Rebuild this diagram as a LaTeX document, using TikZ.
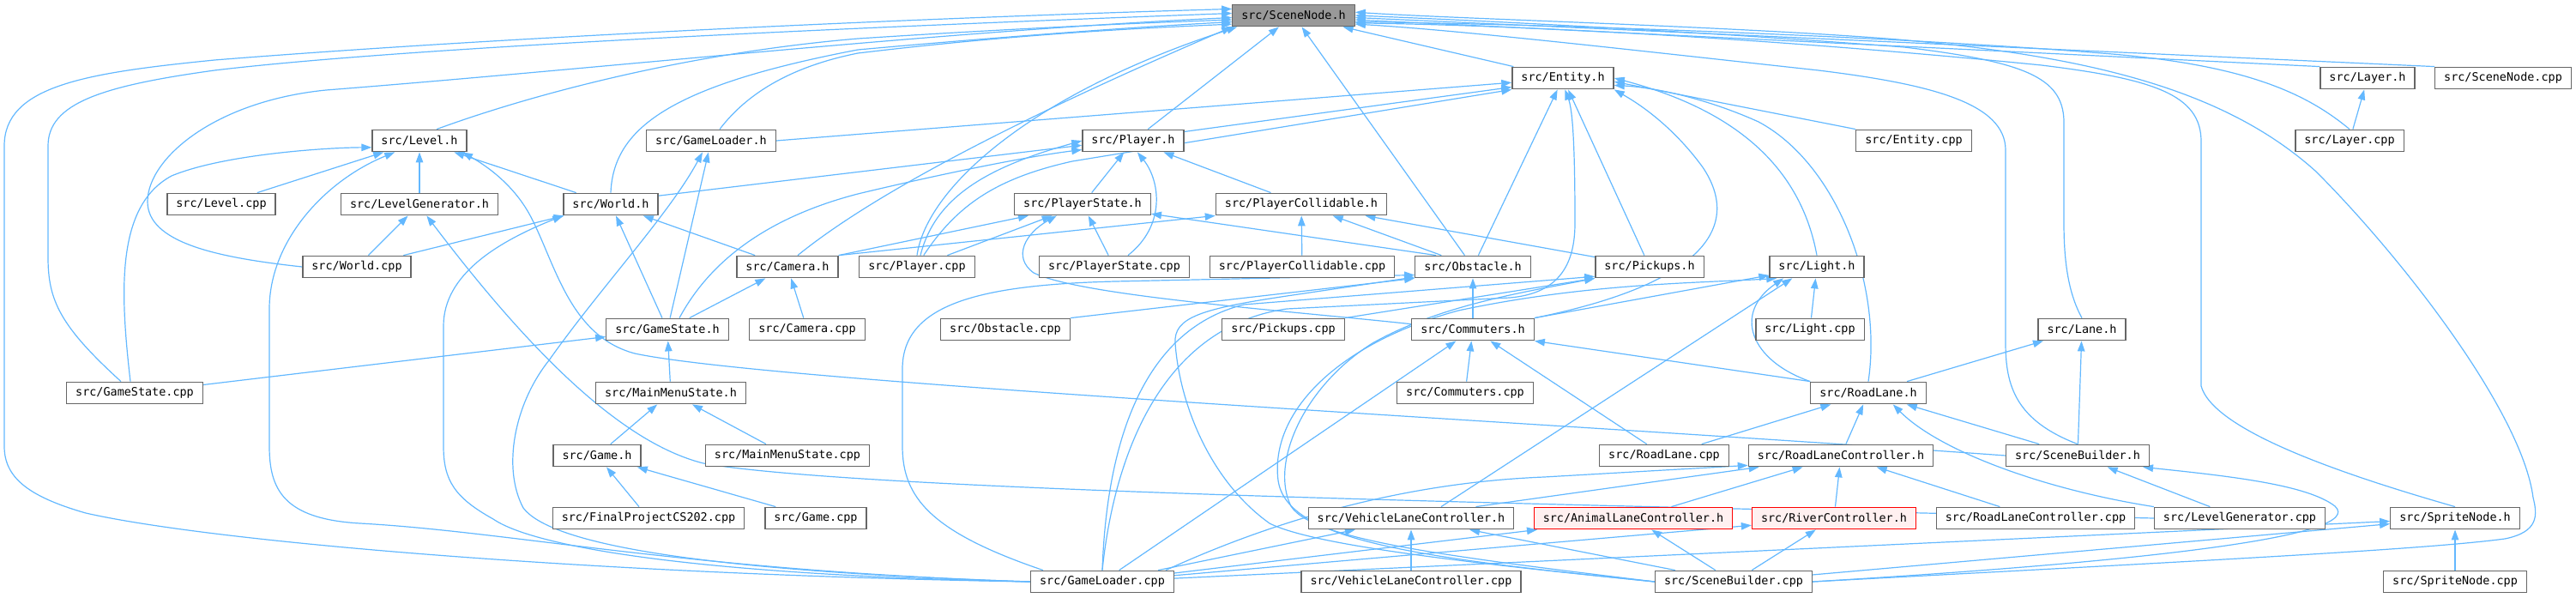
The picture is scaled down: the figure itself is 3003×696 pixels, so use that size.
\documentclass[tikz,border=0pt]{standalone}
\usepackage{fontspec}
\newfontfamily\boxfont{DejaVu Sans Mono}
\usetikzlibrary{arrows.meta}
\definecolor{edgeblue}{HTML}{63B8FF}
\definecolor{boxgray}{HTML}{666666}
\definecolor{rootgray}{HTML}{999999}
\definecolor{redfill}{HTML}{FFF0F0}
\pgfdeclarelayer{bg}
\pgfsetlayers{bg,main}
\begin{document}
\begin{tikzpicture}[x=1pt,y=-1pt,
  box/.style={draw=boxgray, line width=1.3pt, fill=white, font=\boxfont\fontsize{13.45pt}{16pt}\selectfont, inner xsep=10.5pt, inner ysep=0pt, minimum height=25.5pt},
  rootbox/.style={box, fill=rootgray},
  redbox/.style={box, draw=red, fill=redfill},
  edge/.style={draw=edgeblue, line width=1.2pt, -{Triangle[length=12pt,width=8.5pt]}, fill=none}]
\useasboundingbox (0,0) rectangle (3003,696);
\node[rootbox] (SN) at (1508,18) {src/SceneNode.h};
\node[box] (EN) at (1822,91) {src/Entity.h};
\node[box] (LYh) at (2760,91) {src/Layer.h};
\node[box] (SNc) at (2918,91) {src/SceneNode.cpp};
\node[box] (LVh) at (489,164) {src/Level.h};
\node[box] (GLh) at (829,164) {src/GameLoader.h};
\node[box] (PLh) at (1321,164) {src/Player.h};
\node[box] (ENc) at (2231,164) {src/Entity.cpp};
\node[box] (LYc) at (2739,164) {src/Layer.cpp};
\node[box] (LVc) at (258,238) {src/Level.cpp};
\node[box] (LGh) at (489,238) {src/LevelGenerator.h};
\node[box] (WDh) at (712,238) {src/World.h};
\node[box] (PSh) at (1262,238) {src/PlayerState.h};
\node[box] (PCh) at (1517,238) {src/PlayerCollidable.h};
\node[box] (WDc) at (416,311) {src/World.cpp};
\node[box] (CMh) at (918,311) {src/Camera.h};
\node[box] (PLc) at (1069,311) {src/Player.cpp};
\node[box] (PSc) at (1299,311) {src/PlayerState.cpp};
\node[box] (PCc) at (1518,311) {src/PlayerCollidable.cpp};
\node[box] (OBh) at (1717,311) {src/Obstacle.h};
\node[box] (PKh) at (1923,311) {src/Pickups.h};
\node[box] (LTh) at (2118,311) {src/Light.h};
\node[box] (GSh) at (778,384) {src/GameState.h};
\node[box] (CMc) at (941,384) {src/Camera.cpp};
\node[box] (OBc) at (1172,384) {src/Obstacle.cpp};
\node[box] (PKc) at (1496,384) {src/Pickups.cpp};
\node[box] (CTh) at (1717,384) {src/Commuters.h};
\node[box] (LTc) at (2110,384) {src/Light.cpp};
\node[box] (LNh) at (2427,384) {src/Lane.h};
\node[box] (GSc) at (157,458) {src/GameState.cpp};
\node[box] (MMh) at (782,458) {src/MainMenuState.h};
\node[box] (CTc) at (1708,458) {src/Commuters.cpp};
\node[box] (RLh) at (2178,458) {src/RoadLane.h};
\node[box] (GMh) at (696,531) {src/Game.h};
\node[box] (MMc) at (918,531) {src/MainMenuState.cpp};
\node[box] (RLc) at (1940,531) {src/RoadLane.cpp};
\node[box] (RCh) at (2146,531) {src/RoadLaneController.h};
\node[box] (SBh) at (2422,531) {src/SceneBuilder.h};
\node[box] (FPc) at (756,604) {src/FinalProjectCS202.cpp};
\node[box] (GMc) at (951,604) {src/Game.cpp};
\node[box] (VLh) at (1645,604) {src/VehicleLaneController.h};
\node[redbox] (ALh) at (1904,604) {src/AnimalLaneController.h};
\node[redbox] (RVh) at (2138,604) {src/RiverController.h};
\node[box] (RCc) at (2373,604) {src/RoadLaneController.cpp};
\node[box] (LGc) at (2611,604) {src/LevelGenerator.cpp};
\node[box] (SPh) at (2862,604) {src/SpriteNode.h};
\node[box] (GLc) at (1285,678) {src/GameLoader.cpp};
\node[box] (VLc) at (1645,678) {src/VehicleLaneController.cpp};
\node[box] (SBc) at (2021,678) {src/SceneBuilder.cpp};
\node[box] (SPc) at (2862,678) {src/SpriteNode.cpp};
\begin{pgfonlayer}{bg}
% SceneNode.h
\draw[edge] (EN) -- (SN);
\draw[edge] (PLh) -- (SN);
\draw[edge] (OBh) -- (SN);
\draw[edge] (LYh.north west) -- (SN.-4);
\draw[edge] (SNc.north west) -- (SN.-2);
\draw[edge] (LYc.north) .. controls (2690,110) and (2620,75) .. (2450,62) .. controls (2200,42) and (1800,28) .. (SN.-6);
\draw[edge] (LNh.north) .. controls (2410,340) and (2406,300) .. (2406,260) -- (2406,140) .. controls (2404,90) and (2360,72) .. (2220,55) .. controls (2000,38) and (1750,25) .. (SN.0);
\draw[edge] (SBh.north) .. controls (2350,490) and (2338,450) .. (2338,400) -- (2338,175) .. controls (2338,120) and (2250,98) .. (2120,82) .. controls (1900,58) and (1700,35) .. (SN.-8);
\draw[edge] (SPh.north) .. controls (2720,550) and (2580,500) .. (2566,450) -- (2566,165) .. controls (2566,110) and (2510,92) .. (2380,76) .. controls (2100,48) and (1800,30) .. (SN.-7);
\draw[edge] (SBc.east) .. controls (2600,652) and (2830,640) .. (2920,628) .. controls (2960,620) and (2958,600) .. (2953,580) .. controls (2940,480) and (2800,300) .. (2700,200) .. controls (2600,110) and (2450,65) .. (2200,45) .. controls (2000,30) and (1700,22) .. (SN.3);
\draw[edge] ([xshift=20pt]LVh.north) .. controls (620,110) and (800,62) .. (1000,45) .. controls (1200,32) and (1350,26) .. (SN.184);
\draw[edge] ([xshift=10pt]GLh.north) .. controls (870,110) and (920,78) .. (1000,62) .. controls (1200,38) and (1350,32) .. (SN.188);
\draw[edge] (WDh.north) .. controls (715,150) and (780,100) .. (1000,58) .. controls (1200,40) and (1350,30) .. (SN.186);
\draw[edge] ([xshift=12pt]CMh.north) .. controls (1050,200) and (1300,90) .. (SN.south west);
\draw[edge] (PLc.north) .. controls (1080,220) and (1200,110) .. ([xshift=6pt]SN.south west);
\draw[edge] (WDc.west) .. controls (250,300) and (172,282) .. (172,235) .. controls (172,185) and (250,118) .. (380,105) .. controls (700,80) and (1100,36) .. (SN.182);
\draw[edge] ([xshift=-16pt]GSc.north) .. controls (70,380) and (56,350) .. (56,300) -- (56,170) .. controls (56,120) and (120,100) .. (250,82) .. controls (500,52) and (1100,28) .. (SN.178);
\draw[edge] (GLc.west) .. controls (700,670) and (250,632) .. (100,598) .. controls (30,578) and (5,555) .. (5,520) -- (5,170) .. controls (5,100) and (100,85) .. (250,70) .. controls (600,42) and (1100,20) .. (SN.174);
% Entity.h
\draw[edge] (GLh.east) -- (EN.185);
\draw[edge] (PLh.10) -- (EN.190);
\draw[edge] (PLc.60) .. controls (1115,240) and (1160,208) .. (1250,188) -- (EN.south west);
\draw[edge] (OBh) -- (EN);
\draw[edge] (PKh) -- (EN);
\draw[edge] (LTh.north) .. controls (2100,200) and (2030,130) .. (EN.east);
\draw[edge] (RLh.north) .. controls (2195,330) and (2140,190) .. (2050,142) .. controls (1990,115) and (1930,102) .. (EN.-8);
\draw[edge] (ENc.north west) -- (EN.-4);
\draw[edge] (CTh.north east) .. controls (1990,330) and (2030,262) .. (1985,195) .. controls (1945,140) and (1900,115) .. (EN.south east);
\draw[edge] (GLc.north) .. controls (1300,520) and (1360,380) .. (1500,360) -- (1760,347) .. controls (1820,342) and (1836,305) .. (1836,260) .. controls (1836,180) and (1834,130) .. (EN.-80);
% Player.h
\draw[edge] (PSh) -- (PLh);
\draw[edge] ([xshift=16pt]PSc.north) .. controls (1360,262) and (1352,210) .. (PLh.-70);
\draw[edge] (PCh) -- (PLh);
\draw[edge] ([xshift=4pt]PLc.north) .. controls (1090,230) and (1150,195) .. (PLh.west);
\draw[edge] (WDh.10) -- (PLh.185);
\draw[edge] ([xshift=14pt]GSh.north) .. controls (830,300) and (900,252) .. (1000,226) .. controls (1100,202) and (1200,182) .. (PLh.190);
% PlayerState.h
\draw[edge] (CMh.north east) -- (PSh.192);
\draw[edge] (PLc) -- (PSh);
\draw[edge] (PSc) -- (PSh);
\draw[edge] (CTh.175) .. controls (1500,362) and (1260,345) .. (1205,318) .. controls (1180,300) and (1195,272) .. (PSh.-156);
\draw[edge] ([xshift=25pt]OBh.north west) -- (PSh.-8);
% PlayerCollidable.h
\draw[edge] (PCc) -- (PCh);
\draw[edge] (CMh.north east) -- (PCh.south west);
\draw[edge] (OBh) -- (PCh);
\draw[edge] (PKh) -- (PCh);
% Obstacle.h
\draw[edge] (OBc.north east) -- (OBh.south west);
\draw[edge] (CTh) -- (OBh);
\draw[edge] ([xshift=15pt]GLc.north west) .. controls (1085,620) and (1052,580) .. (1052,520) -- (1052,430) .. controls (1052,355) and (1140,332) .. (1300,328) -- (OBh.188);
\draw[edge] (SBc.west) .. controls (1700,655) and (1530,635) .. (1480,610) .. controls (1410,560) and (1375,470) .. (1370,400) .. controls (1368,370) and (1400,360) .. (1500,345) -- (OBh.190);
% Pickups.h
\draw[edge] (PKc.north east) -- (PKh.south west);
\draw[edge] (GLc.north) .. controls (1290,520) and (1330,385) .. (1450,355) -- (PKh.190);
\draw[edge] (SBc.west) .. controls (1700,650) and (1530,630) .. (1505,590) .. controls (1480,540) and (1520,450) .. (1600,400) .. controls (1680,355) and (1780,340) .. (PKh.south west);
% Light.h
\draw[edge] (LTc) -- (LTh);
\draw[edge] (CTh.north east) -- (LTh.190);
\draw[edge] (RLh.north west) .. controls (2040,420) and (2020,365) .. (LTh.199);
\draw[edge] ([xshift=35pt]VLh.north) -- (LTh.205);
\draw[edge] (SBc.west) .. controls (1650,650) and (1500,630) .. (1490,560) .. controls (1480,480) and (1560,400) .. (1700,362) .. controls (1850,330) and (1980,330) .. (LTh.196);
% Commuters.h
\draw[edge] (CTc) -- (CTh);
\draw[edge] (RLc) -- (CTh);
\draw[edge] (RLh.north west) -- (CTh.south east);
\draw[edge] (GLc) -- (CTh);
% Lane.h
\draw[edge] (RLh) -- (LNh);
\draw[edge] (SBh) -- (LNh);
% RoadLane.h
\draw[edge] (RLc) -- (RLh);
\draw[edge] (RCh) -- (RLh);
\draw[edge] (SBh) -- (RLh);
\draw[edge] (LGc.north west) .. controls (2380,570) and (2260,525) .. (RLh.-25);
% RoadLaneController.h
\draw[edge] (RVh) -- (RCh);
\draw[edge] (ALh) -- (RCh);
\draw[edge] (RCc) -- (RCh);
\draw[edge] ([xshift=-45pt]VLh.north east) -- (RCh.188);
\draw[edge] ([xshift=-10pt]GLc.north east) .. controls (1500,600) and (1650,562) .. (1800,556) -- (RCh.186);
% SceneBuilder.h
\draw[edge] (LGc) -- (SBh);
\draw[edge] (SBc.east) .. controls (2500,655) and (2760,625) .. (2722,590) .. controls (2690,565) and (2600,555) .. (SBh.-10);
% controllers
\draw[edge] (VLc) -- (VLh);
\draw[edge] (GLc) -- (VLh);
\draw[edge] (SBc) -- (VLh);
\draw[edge] (GLc) -- (ALh);
\draw[edge] (SBc) -- (ALh);
\draw[edge] (GLc) -- (RVh);
\draw[edge] (SBc) -- (RVh);
% SpriteNode.h
\draw[edge] (SPc) -- (SPh);
\draw[edge] (GLc) -- (SPh);
\draw[edge] (SBc) -- (SPh);
% GameLoader.h
\draw[edge] (GSh) -- (GLh);
\draw[edge] (GLc.west) .. controls (800,665) and (640,632) .. (610,592) .. controls (585,545) and (600,470) .. (640,420) .. controls (700,335) and (780,250) .. ([xshift=-10pt]GLh.south);
% World.h
\draw[edge] (WDc) -- (WDh);
\draw[edge] (GSh) -- (WDh);
\draw[edge] (CMh) -- (WDh);
\draw[edge] (GLc.west) .. controls (800,670) and (620,636) .. (575,605) .. controls (530,580) and (517,560) .. (517,520) -- (517,380) .. controls (517,320) and (580,282) .. (WDh.south west);
% Level.h
\draw[edge] (LVc) -- (LVh);
\draw[edge] (LGh) -- (LVh);
\draw[edge] (WDh) -- (LVh);
\draw[edge] ([xshift=-5pt]GSc.north) .. controls (140,340) and (135,240) .. (200,205) .. controls (260,180) and (380,172) .. (LVh.188);
\draw[edge] (GLc.west) .. controls (800,665) and (600,620) .. (420,610) .. controls (330,605) and (314,570) .. (314,520) -- (314,360) .. controls (314,280) and (380,210) .. (LVh.-155);
\draw[edge] (SBh.west) .. controls (1800,492) and (900,446) .. (740,412) .. controls (665,392) and (648,310) .. (620,255) .. controls (600,215) and (565,192) .. (LVh.-15);
% LevelGenerator.h
\draw[edge] (WDc) -- (LGh);
\draw[edge] (LGc.west) .. controls (1800,588) and (1000,572) .. (820,540) .. controls (720,515) and (610,400) .. (LGh.-58);
% Camera.h
\draw[edge] (GSh) -- (CMh);
\draw[edge] (CMc) -- (CMh);
% GameState.h and below
\draw[edge] (GSc) -- (GSh);
\draw[edge] (MMh) -- (GSh);
\draw[edge] (GMh) -- (MMh);
\draw[edge] (MMc) -- (MMh);
\draw[edge] (FPc) -- (GMh);
\draw[edge] (GMc) -- (GMh);
% Layer
\draw[edge] (LYc) -- (LYh);
\end{pgfonlayer}
\end{tikzpicture}
\end{document}
